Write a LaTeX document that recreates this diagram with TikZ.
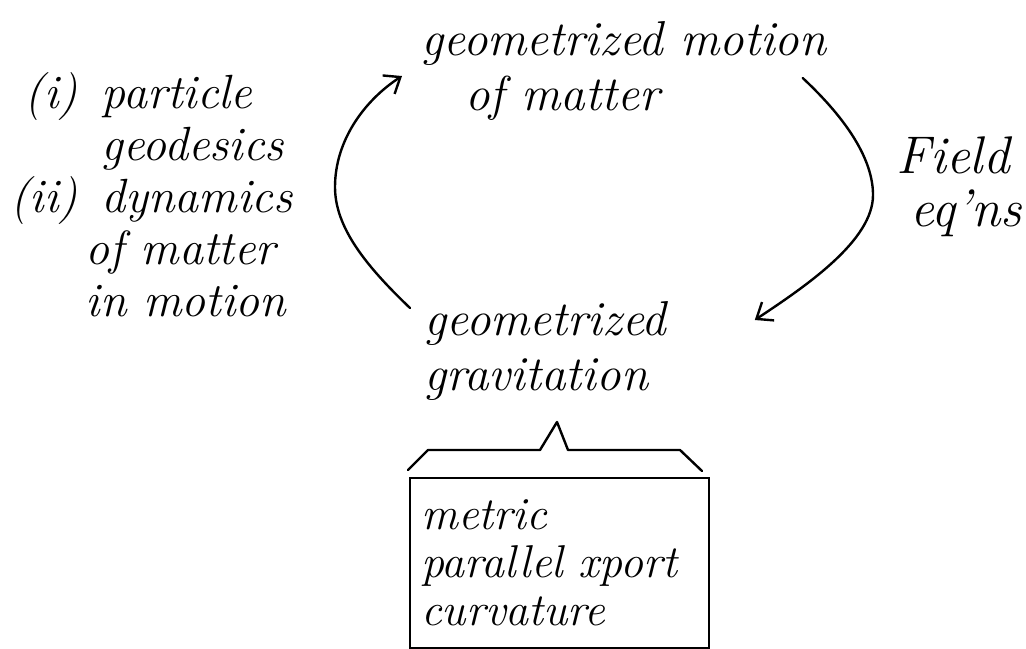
\documentclass[tikz,border=0pt]{standalone}
\usepackage{fontspec}
\usetikzlibrary{arrows.meta}
\begin{document}
\begin{tikzpicture}[x=0.5pt, y=-0.5pt,
    hand/.style={font=\fontsize{24.5}{27.5}\selectfont\itshape, inner sep=0pt, align=left},
    note/.style={font=\fontsize{24}{26}\selectfont\itshape, inner sep=0pt},
    flow/.style={-{Straight Barb[length=7pt, width=11pt]}, line width=1.2pt, line cap=round},
    brace/.style={line width=1.2pt, line join=round, line cap=round}]
    \useasboundingbox (0,0) rectangle (1026,648);
    % Cycle
    \node[hand, anchor=north west] (motion) at (421,21) {geometrized motion\\\hspace*{22pt}of matter};
    \node[hand, anchor=north west] (grav) at (424,301) {geometrized\\gravitation};
    \node[hand, anchor=north west, font=\fontsize{26.5}{26.5}\selectfont\itshape] (field) at (896,136)
        {Field\\\hspace*{7pt}eq'ns};
    \node[note, anchor=north west] (effects) at (10,72)
        {\begin{tabular}{@{}r@{\hspace{12pt}}l@{}}
            (i) & particle\\
                & geodesics\\
            (ii) & dynamics\\
                & \hspace*{-8pt}of matter\\
                & \hspace*{-8pt}in motion
         \end{tabular}};
    % What gravitation is made of
    \node[draw, line width=1.2pt, anchor=north west, minimum width=149.5pt, minimum height=85pt,
        inner xsep=5.5pt, text width=138.5pt, align=left,
        font=\fontsize{23}{24}\selectfont\itshape] (props) at (409,477)
        {metric\\parallel xport\\curvature};
    \draw[brace] ([shift={(-1,-7)}]props.north west) -- ++(20,-20) -- ++(112,0)
        -- ++(17,-28) -- ++(11,28) -- ++(112,0) -- ++(22,21);
    % Arrows
    \draw[flow] ([shift={(-14,7)}]grav.north west) .. controls +(-45,-43) and +(0,40) .. (335,187)
        .. controls +(0,-47) and +(-37,24) .. ([shift={(-19,55)}]motion.north west);
    \draw[flow] ([shift={(-24,57)}]motion.north east) .. controls +(45,42) and +(0,-35) .. (873,195)
        .. controls +(0,45) and +(53,-35) .. ([shift={(88,19)}]grav.north east);
\end{tikzpicture}
\end{document}
